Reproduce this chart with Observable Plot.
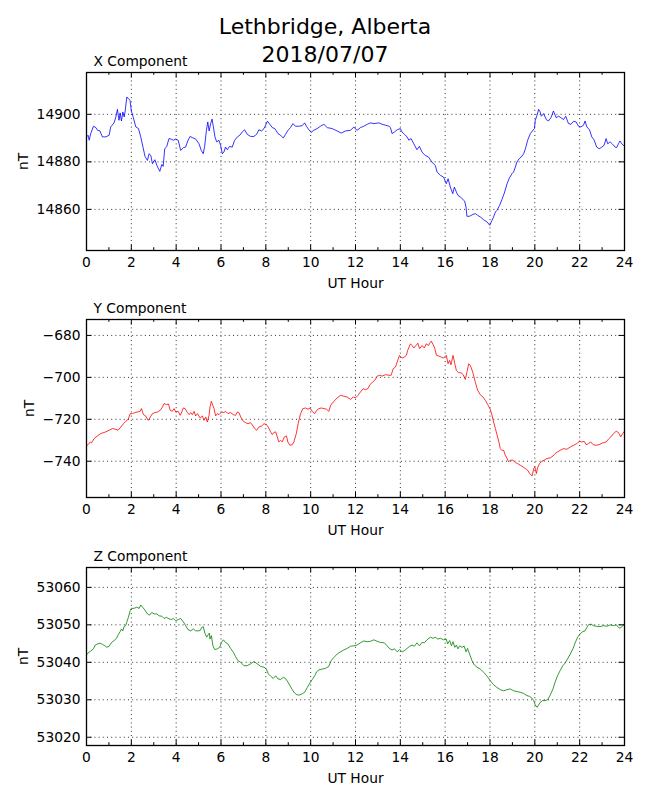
<!DOCTYPE html>
<html>
<head>
<meta charset="utf-8">
<script src="https://cdn.jsdelivr.net/npm/d3@7"></script>
<script src="https://cdn.jsdelivr.net/npm/@observablehq/plot@0.6"></script>
<style>
  html, body { margin: 0; padding: 0; background: #fff; }
  #page { position: relative; width: 650px; height: 800px; padding-top: 48px; box-sizing: border-box; font-family: "DejaVu Sans", sans-serif; }
  #title { position: absolute; top: 13px; left: 0; width: 650px; text-align: center; font-size: 22px; line-height: 27.5px; color: #000; z-index: 2; }
  #page svg { display: block; }
</style>
</head>
<body>
<div id="page">
  <div id="title">Lethbridge, Alberta<br>2018/07/07</div>
  <div id="charts"></div>
</div>
<script>
// ---- data ----
const hourTicks = [0, 2, 4, 6, 8, 10, 12, 14, 16, 18, 20, 22, 24];
const hourMinorTicks = [1, 3, 5, 7, 9, 11, 13, 15, 17, 19, 21, 23];

const xTicks = [14860, 14880, 14900];
const yTicks = [-740, -720, -700, -680];
const zTicks = [53020, 53030, 53040, 53050, 53060];

const xDomain = [14842.7, 14917.6];
const yDomain = [-757.3, -672.4];
const zDomain = [53017.8, 53065.3];

const xHours = [0,0.07,0.12,0.19,0.31,0.42,0.49,0.6,0.71,0.86,1.01,1.08,1.23,1.31,1.38,1.45,1.5,1.56,1.62,1.68,1.72,1.8,1.87,1.94,2.0,2.09,2.2,2.32,2.42,2.52,2.61,2.72,2.79,2.87,2.94,3.05,3.14,3.27,3.36,3.42,3.49,3.58,3.68,3.79,3.87,3.98,4.09,4.2,4.32,4.42,4.53,4.62,4.72,4.87,5.02,5.12,5.21,5.27,5.35,5.41,5.47,5.54,5.6,5.66,5.73,5.81,5.91,5.98,6.06,6.13,6.2,6.28,6.38,6.5,6.61,6.73,6.84,6.95,7.05,7.17,7.32,7.47,7.59,7.69,7.81,7.92,7.99,8.07,8.18,8.29,8.4,8.54,8.66,8.78,8.88,8.99,9.1,9.21,9.32,9.47,9.62,9.73,9.81,9.92,10.02,10.14,10.29,10.44,10.59,10.74,10.96,11.18,11.36,11.55,11.78,11.93,11.98,12.07,12.22,12.37,12.52,12.67,12.82,13.04,13.19,13.34,13.49,13.56,13.63,13.74,13.86,14.0,14.07,14.18,14.3,14.38,14.48,14.6,14.74,14.85,14.97,15.11,15.26,15.41,15.56,15.64,15.79,15.93,16.05,16.13,16.23,16.34,16.41,16.5,16.57,16.68,16.8,16.87,16.93,16.97,17.09,17.24,17.35,17.45,17.57,17.72,17.87,17.99,18.09,18.16,18.24,18.31,18.43,18.53,18.64,18.76,18.87,18.98,19.05,19.13,19.2,19.3,19.39,19.5,19.58,19.68,19.8,19.89,19.98,20.02,20.1,20.17,20.24,20.29,20.39,20.51,20.61,20.72,20.83,20.95,21.06,21.16,21.28,21.38,21.5,21.61,21.73,21.84,21.95,22.05,22.17,22.24,22.32,22.44,22.54,22.64,22.76,22.87,22.99,23.09,23.18,23.25,23.36,23.47,23.58,23.65,23.73,23.8,23.88,24.0];
const xValues = [14890.5,14891.2,14889.1,14891.9,14895.0,14894.4,14893.3,14893.0,14890.5,14890.5,14891.2,14894.7,14896.4,14898.9,14902.1,14897.5,14900.6,14897.2,14901.0,14898.9,14901.0,14907.3,14906.6,14905.9,14901.4,14898.6,14894.7,14894.0,14890.5,14886.2,14882.3,14880.6,14883.4,14882.7,14879.2,14880.9,14878.5,14876.0,14878.9,14878.1,14885.5,14886.5,14889.8,14889.5,14889.1,14889.6,14889.1,14884.8,14886.0,14886.2,14889.1,14890.7,14890.2,14889.6,14887.6,14884.8,14883.4,14886.5,14893.3,14896.8,14893.0,14896.1,14898.0,14894.7,14890.5,14888.4,14889.1,14887.0,14883.4,14884.1,14886.2,14885.1,14886.5,14886.2,14889.1,14890.5,14891.2,14892.6,14893.5,14891.6,14890.7,14890.7,14891.6,14893.5,14893.0,14894.0,14895.4,14897.1,14895.8,14894.4,14894.0,14891.9,14891.2,14890.0,14891.6,14893.3,14894.4,14896.1,14895.0,14895.0,14895.2,14896.4,14895.0,14893.5,14892.4,14893.3,14894.0,14895.0,14895.8,14894.4,14894.0,14893.0,14892.1,14893.0,14893.3,14894.7,14894.0,14893.3,14894.4,14895.0,14895.8,14896.4,14896.1,14896.4,14895.8,14895.4,14895.0,14894.4,14891.9,14892.6,14893.5,14894.0,14892.6,14891.6,14890.5,14889.1,14889.8,14887.6,14885.1,14886.5,14884.1,14882.7,14882.0,14879.9,14878.5,14875.7,14874.3,14873.6,14870.8,14872.9,14869.4,14866.6,14869.4,14867.3,14865.9,14865.2,14864.1,14863.5,14861.0,14857.1,14857.1,14857.9,14858.2,14857.5,14856.8,14855.6,14854.7,14853.3,14855.4,14856.8,14858.9,14859.6,14861.7,14864.1,14866.9,14870.8,14873.3,14875.0,14875.7,14877.8,14879.9,14881.3,14882.0,14883.4,14885.5,14889.1,14891.9,14893.0,14894.0,14897.5,14899.6,14902.1,14901.0,14899.2,14900.3,14897.8,14897.2,14898.6,14901.4,14898.6,14899.2,14898.6,14897.8,14899.2,14896.1,14895.8,14897.1,14896.8,14895.0,14894.7,14895.4,14897.2,14894.7,14893.5,14890.5,14889.3,14886.2,14885.5,14886.2,14887.0,14889.8,14887.6,14888.4,14887.4,14886.2,14886.0,14887.6,14888.8,14887.6,14886.5];

const yHours = [0,0.07,0.17,0.22,0.34,0.49,0.64,0.86,1.01,1.16,1.31,1.41,1.53,1.65,1.75,1.86,1.95,2.05,2.16,2.28,2.39,2.45,2.54,2.64,2.75,2.82,2.94,3.05,3.17,3.29,3.39,3.46,3.57,3.66,3.73,3.83,3.91,3.98,4.09,4.18,4.25,4.32,4.4,4.5,4.58,4.65,4.72,4.8,4.87,4.95,5.07,5.17,5.24,5.32,5.39,5.47,5.51,5.57,5.63,5.69,5.76,5.84,5.91,6.02,6.13,6.21,6.31,6.43,6.55,6.65,6.73,6.8,6.88,7.0,7.1,7.21,7.32,7.43,7.5,7.59,7.69,7.81,7.92,8.02,8.11,8.21,8.29,8.36,8.44,8.51,8.58,8.66,8.73,8.83,8.92,8.98,9.07,9.18,9.25,9.36,9.44,9.55,9.65,9.77,9.88,9.97,10.07,10.18,10.27,10.37,10.47,10.59,10.71,10.81,10.89,11.04,11.18,11.33,11.48,11.63,11.78,11.9,12.0,12.11,12.22,12.34,12.45,12.55,12.64,12.74,12.86,12.97,13.08,13.19,13.34,13.49,13.59,13.68,13.78,13.86,13.96,14.08,14.18,14.27,14.33,14.45,14.52,14.6,14.7,14.78,14.86,14.97,15.07,15.16,15.26,15.34,15.38,15.46,15.52,15.61,15.71,15.82,15.93,16.05,16.13,16.2,16.26,16.35,16.43,16.5,16.6,16.71,16.8,16.9,16.98,17.05,17.12,17.23,17.35,17.45,17.57,17.69,17.79,17.9,18.01,18.09,18.16,18.24,18.31,18.39,18.46,18.53,18.61,18.68,18.76,18.83,18.9,19.02,19.13,19.23,19.35,19.47,19.58,19.68,19.77,19.88,19.95,20.0,20.07,20.12,20.21,20.32,20.42,20.54,20.69,20.81,20.91,21.01,21.13,21.28,21.43,21.58,21.73,21.87,21.99,22.09,22.2,22.29,22.39,22.49,22.6,22.72,22.87,23.02,23.18,23.28,23.39,23.51,23.63,23.73,23.83,23.92,24.0];
const yValues = [-732.7,-732.1,-730.8,-731.3,-729.2,-727.9,-726.8,-726.0,-725.2,-724.4,-724.8,-725.2,-723.7,-722.1,-721.0,-720.0,-717.3,-717.3,-716.8,-716.5,-716.2,-714.9,-717.8,-718.4,-720.5,-719.4,-717.3,-716.8,-716.5,-715.7,-714.1,-712.5,-713.0,-712.7,-715.7,-716.2,-714.9,-716.5,-716.2,-718.1,-716.5,-714.6,-714.9,-716.8,-717.8,-716.8,-717.8,-716.2,-718.4,-717.3,-719.4,-718.4,-720.5,-718.9,-721.3,-718.1,-714.1,-711.4,-713.3,-714.9,-718.4,-717.3,-717.8,-716.5,-716.8,-716.2,-717.3,-716.8,-717.8,-718.1,-716.5,-716.8,-718.9,-721.0,-721.6,-722.1,-721.6,-723.2,-724.4,-725.2,-723.7,-723.2,-722.1,-722.5,-723.7,-726.0,-727.3,-726.3,-726.0,-728.4,-730.8,-730.0,-730.8,-728.4,-727.9,-730.8,-732.4,-732.1,-730.8,-726.8,-722.1,-717.3,-714.9,-714.6,-715.2,-714.6,-716.2,-717.3,-715.7,-714.9,-714.6,-714.9,-715.2,-716.2,-713.3,-711.4,-709.8,-708.6,-709.0,-709.4,-710.5,-709.4,-709.8,-708.6,-707.0,-705.4,-705.9,-705.4,-703.5,-702.5,-701.4,-699.4,-699.0,-699.4,-698.7,-699.0,-699.0,-695.9,-695.1,-692.7,-689.5,-690.8,-690.3,-689.5,-687.1,-684.0,-684.8,-686.0,-684.8,-683.7,-686.3,-684.8,-686.0,-684.0,-684.8,-683.2,-682.7,-684.4,-685.6,-689.5,-689.8,-690.3,-690.8,-689.5,-693.5,-691.9,-694.0,-689.5,-693.5,-696.7,-697.8,-697.8,-698.7,-701.0,-697.1,-693.5,-694.3,-697.5,-702.5,-706.2,-708.3,-709.4,-711.0,-713.0,-715.2,-718.1,-721.3,-724.4,-727.3,-730.5,-734.0,-734.8,-734.8,-737.1,-738.7,-740.3,-739.5,-739.5,-740.6,-741.1,-741.9,-742.7,-743.5,-744.3,-745.9,-747.0,-743.5,-742.7,-745.9,-743.2,-741.1,-740.0,-739.5,-738.7,-738.4,-737.5,-736.3,-735.6,-734.8,-734.0,-734.3,-733.2,-732.4,-731.6,-730.5,-730.8,-730.5,-732.1,-731.6,-730.8,-732.1,-732.4,-732.1,-731.3,-730.8,-729.5,-728.4,-726.8,-725.7,-726.3,-728.4,-726.8,-725.7];

const zHours = [0,0.07,0.19,0.31,0.39,0.49,0.61,0.71,0.82,0.91,1.01,1.12,1.23,1.34,1.41,1.5,1.56,1.62,1.68,1.75,1.8,1.87,1.95,2.0,2.12,2.24,2.35,2.42,2.5,2.6,2.72,2.82,2.91,3.02,3.14,3.24,3.36,3.46,3.57,3.68,3.79,3.87,3.98,4.09,4.2,4.32,4.42,4.53,4.65,4.77,4.87,4.98,5.07,5.14,5.21,5.28,5.36,5.42,5.48,5.51,5.57,5.64,5.72,5.84,5.94,6.02,6.11,6.2,6.31,6.43,6.55,6.65,6.76,6.88,7.02,7.17,7.32,7.47,7.62,7.77,7.92,8.02,8.11,8.21,8.33,8.44,8.54,8.66,8.78,8.88,8.99,9.07,9.18,9.28,9.4,9.52,9.62,9.73,9.85,9.97,10.07,10.18,10.27,10.37,10.52,10.66,10.81,10.91,11.04,11.18,11.33,11.48,11.63,11.78,11.93,12.07,12.22,12.37,12.52,12.67,12.82,12.97,13.11,13.29,13.41,13.53,13.63,13.74,13.86,13.97,14.08,14.18,14.3,14.42,14.52,14.63,14.74,14.85,14.97,15.07,15.19,15.34,15.46,15.56,15.67,15.79,15.93,16.05,16.11,16.2,16.28,16.35,16.43,16.5,16.57,16.65,16.75,16.85,16.93,17.0,17.09,17.2,17.3,17.42,17.57,17.72,17.87,18.01,18.16,18.31,18.46,18.61,18.76,18.9,19.05,19.2,19.35,19.5,19.65,19.77,19.88,19.95,20.02,20.1,20.17,20.24,20.35,20.46,20.57,20.69,20.81,20.91,21.01,21.13,21.25,21.35,21.46,21.58,21.7,21.8,21.91,22.02,22.14,22.24,22.32,22.39,22.5,22.61,22.76,22.91,23.06,23.21,23.36,23.51,23.63,23.73,23.8,23.88,24.0];
const zValues = [53042.0,53042.5,53043.0,53043.6,53044.6,53044.9,53045.1,53044.8,53044.4,53044.0,53044.3,53045.3,53045.8,53046.4,53047.3,53048.2,53048.9,53048.4,53049.6,53049.8,53050.8,53052.0,53053.8,53054.4,53054.4,53054.7,53054.4,53055.3,53054.7,53054.0,53052.9,53052.6,53053.3,53052.9,53052.9,53052.4,53052.3,53051.7,53052.0,53051.6,53051.4,53051.7,53051.1,53051.4,53051.7,53050.8,53049.8,53048.7,53048.4,53048.9,53048.4,53048.4,53048.5,53049.3,53049.5,53047.8,53046.7,53047.3,53047.8,53046.2,53047.1,53044.4,53043.4,53043.6,53044.0,53045.3,53046.0,53045.3,53044.9,53043.7,53042.7,53041.5,53040.4,53040.0,53039.1,53039.1,53039.6,53040.2,53039.6,53038.9,53038.7,53038.2,53036.9,53036.3,53035.7,53036.4,53035.6,53035.4,53036.0,53035.7,53034.7,53033.8,53032.7,53031.8,53031.3,53031.3,53031.6,53032.0,53033.3,53034.5,53035.4,53036.4,53037.5,53038.0,53038.2,53038.4,53038.9,53040.4,53041.3,53042.2,53042.8,53043.3,53043.7,53044.3,53044.4,53044.6,53045.2,53045.7,53045.5,53045.6,53046.0,53045.6,53045.3,53045.2,53044.4,53043.6,53043.3,53043.6,53042.8,53043.4,53042.8,53043.1,53043.7,53044.3,53044.6,53044.3,53045.2,53044.4,53045.3,53045.2,53046.0,53046.7,53046.4,53046.7,53046.2,53046.4,53046.0,53046.2,53044.9,53045.8,53044.4,53045.5,53044.0,53044.6,53043.6,53044.4,53044.0,53044.3,53042.8,53043.7,53042.2,53040.4,53039.3,53038.7,53038.2,53037.3,53036.3,53035.1,53034.0,53033.3,53032.7,53032.4,53032.7,53032.9,53032.4,53032.2,53032.0,53031.7,53031.1,53030.9,53030.4,53029.8,53028.6,53028.0,53028.6,53029.3,53029.8,53029.8,53030.0,53031.3,53032.9,53034.8,53036.4,53037.8,53039.1,53039.8,53040.9,53042.2,53043.6,53045.2,53046.7,53047.6,53048.2,53048.4,53049.3,53050.0,53050.2,53049.8,53049.6,53049.5,53049.8,53049.6,53050.0,53049.8,53050.0,53049.3,53049.1,53049.5,53050.2];

// ---- drawing ----
const W = 650, ML = 86, MR = 26;
const FONT = 13.8;
const fmt = d => String(d).replace("-", "\u2212");

function panel({title, hours, values, color, domain, ticks, height, marginTop, marginBottom, nTdx}) {
  const data = hours.map((h, i) => ({h, v: values[i]}));
  const boxW = W - ML - MR;
  const boxH = height - marginTop - marginBottom;
  const major = 5.5, minor = 2.8;
  return Plot.plot({
    width: W, height, marginLeft: ML, marginRight: MR, marginTop, marginBottom,
    style: {fontFamily: '"DejaVu Sans", sans-serif', fontSize: FONT + "px", color: "black", background: "white", overflow: "visible"},
    x: {domain: [0, 24], axis: null},
    y: {domain, axis: null},
    marks: [
      Plot.ruleX(hourTicks, {x: d => d, stroke: "black", strokeWidth: 0.8, strokeDasharray: "1,3.2"}),
      Plot.ruleY(ticks, {y: d => d, stroke: "black", strokeWidth: 0.8, strokeDasharray: "1,3.2"}),
      Plot.line(data, {x: "h", y: "v", stroke: color, strokeWidth: 0.8}),
      // inward ticks, bottom & top
      Plot.tickX(hourTicks, {x: d => d, stroke: "black", strokeWidth: 1, insetTop: boxH - major}),
      Plot.tickX(hourTicks, {x: d => d, stroke: "black", strokeWidth: 1, insetBottom: boxH - major}),
      Plot.tickX(hourMinorTicks, {x: d => d, stroke: "black", strokeWidth: 1, insetTop: boxH - minor}),
      Plot.tickX(hourMinorTicks, {x: d => d, stroke: "black", strokeWidth: 1, insetBottom: boxH - minor}),
      // inward ticks, left & right
      Plot.tickY(ticks, {y: d => d, stroke: "black", strokeWidth: 1, insetRight: boxW - major}),
      Plot.tickY(ticks, {y: d => d, stroke: "black", strokeWidth: 1, insetLeft: boxW - major}),
      Plot.frame({stroke: "black", strokeWidth: 1.3}),
      // tick labels
      Plot.text(hourTicks, {x: d => d, text: d => String(d), frameAnchor: "bottom", dy: 7, lineAnchor: "top", fill: "black", fontSize: FONT}),
      Plot.text(ticks, {y: d => d, text: fmt, frameAnchor: "left", dx: -6, textAnchor: "end", lineAnchor: "middle", fill: "black", fontSize: FONT}),
      // axis labels and panel title
      Plot.text(["UT Hour"], {text: d => d, frameAnchor: "bottom", dy: 37.5, lineAnchor: "bottom", fill: "black", fontSize: FONT}),
      Plot.text(["nT"], {text: d => d, frameAnchor: "left", dx: nTdx, rotate: -90, textAnchor: "middle", lineAnchor: "middle", fill: "black", fontSize: FONT}),
      Plot.text([title], {text: d => d, frameAnchor: "top-left", dx: 7, dy: -7, textAnchor: "start", lineAnchor: "bottom", fill: "black", fontSize: FONT})
    ]
  });
}

const charts = document.getElementById("charts");
charts.append(panel({title: "X Component", hours: xHours, values: xValues, color: "#0000ff", domain: xDomain, ticks: xTicks, height: 249, marginTop: 24, marginBottom: 47, nTdx: -63}));
charts.append(panel({title: "Y Component", hours: yHours, values: yValues, color: "#ff0000", domain: yDomain, ticks: yTicks, height: 248, marginTop: 22, marginBottom: 48, nTdx: -57}));
charts.append(panel({title: "Z Component", hours: zHours, values: zValues, color: "#008000", domain: zDomain, ticks: zTicks, height: 248, marginTop: 22, marginBottom: 48, nTdx: -62.7}));
</script>
</body>
</html>
